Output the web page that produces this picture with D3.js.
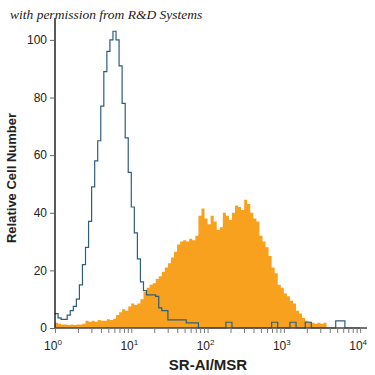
<!DOCTYPE html>
<html>
<head>
<meta charset="utf-8">
<script src="https://cdn.jsdelivr.net/npm/d3@7"></script>
<style>
  body { margin: 0; background: #fff; }
  svg { display: block; }
</style>
</head>
<body>
<script>
// histogram channels: 25 bins per decade, starting at 10^0
var binsPerDecade = 25;

// isotype control (blue outline)
var control = [
  5, 3.5, 3, 3, 4.5, 6, 7.5, 10, 15, 22,
  28, 37, 49, 58, 65, 77, 89, 96, 100, 103,
  100, 91, 78, 66, 54, 42, 33, 24, 16, 13,
  11.5, 11.5, 11.5, 11, 7, 6, 6, 2.8, 2.8, 2.8,
  2.8, 2.8, 2.8, 1.8, 1.8, 1.8, 1.8, 0, 0, 0,
  0, 0, 0, 0, 0, 0, 2, 2, 0, 0,
  0, 0, 0, 0, 0, 0, 0, 0, 0, 0,
  0, 2, 2, 0, 0, 0, 0, 2, 2, 0,
  0, 0, 2, 2, 0, 0, 0, 0, 0, 0,
  0, 0, 2.5, 2.5, 2.5, 0, 0, 0, 0, 0
];

// SR-AI/MSR stained (orange filled)
var stained = [
  1.8, 1.5, 1.2, 1.2, 1, 1.2, 1, 1.2, 1.2, 1.5,
  2.5, 2.2, 2.5, 2.2, 2.8, 2.5, 2.5, 3, 2.8, 3.2,
  4.5, 5.5, 6.5, 6, 7.5, 8.5, 8, 8.5, 10, 12.5,
  14, 15, 15.5, 17, 18, 19.5, 21, 22.5, 24.5, 26.5,
  29, 30, 30.5, 30, 31, 30.5, 32, 39, 41.5, 38,
  36, 39, 37, 34, 35, 40, 39, 37.5, 40, 42.5,
  42, 41, 44.5, 43, 40, 38, 37, 32, 30, 28,
  25, 21, 19, 15, 14, 12, 11, 9.5, 8.5, 6,
  5, 3.5, 2.5, 2.2, 1.8, 1.5, 1.8, 1.5, 1.8, 0,
  0, 0, 0, 0, 0, 0, 0, 0, 0, 0
];

var yTicks = [0, 20, 40, 60, 80, 100];
var decades = [0, 1, 2, 3, 4];

var width = 375;
var height = 375;
var narrow = "'Liberation Sans Narrow', 'Arial Narrow', sans-serif";

var svg = d3.select("body")
            .append("svg")
            .attr("width", width)
            .attr("height", height);

var x = d3.scaleLog()
          .domain([1, Math.pow(10, 4.09)])
          .range([55, 367]);

var y = d3.scaleLinear()
          .domain([0, 107.6])
          .range([328, 18]);

function edge(i) {
    return Math.pow(10, i / binsPerDecade);
}

function toSteps(values) {
    var pts = values.map(function(v, i) { return [edge(i), v]; });
    pts.push([edge(values.length), values[values.length - 1]]);
    return pts;
}

var area = d3.area()
             .x(function(d) { return x(d[0]); })
             .y0(y(0))
             .y1(function(d) { return y(d[1]); })
             .curve(d3.curveStepAfter);

var line = d3.line()
             .x(function(d) { return x(d[0]); })
             .y(function(d) { return y(d[1]); })
             .curve(d3.curveStepAfter);

svg.append("path")
   .attr("d", area(toSteps(stained)))
   .style("fill", "#f8a11f");

svg.append("path")
   .attr("d", line(toSteps(control)))
   .style("fill", "none")
   .style("stroke", "#2f5d7c")
   .style("stroke-width", 1.2);

// y axis
var yAxis = d3.axisLeft(y)
              .tickValues(yTicks)
              .tickSize(5)
              .tickPadding(3);

var gy = svg.append("g")
            .attr("transform", "translate(55,0)")
            .call(yAxis);
gy.select(".domain").attr("d", "M0," + y(107.6) + "V" + y(0)).style("stroke-width", 1.3);
gy.selectAll("text")
  .style("font-family", narrow)
  .style("font-size", "12px")
  .style("fill", "#222");
gy.selectAll("line").style("stroke", "#666");

// x axis with minor ticks
var minor = [];
decades.forEach(function(k) {
    for (var m = 1; m < 10; m++) {
        var v = m * Math.pow(10, k);
        if (v <= Math.pow(10, 4.09)) minor.push(v);
    }
});

var xAxis = d3.axisBottom(x)
              .tickValues(minor)
              .tickSize(5)
              .tickFormat("");

var gx = svg.append("g")
            .attr("transform", "translate(0,328)")
            .call(xAxis);
gx.select(".domain").attr("d", "M55,0H367").style("stroke", "#444").style("stroke-width", 1.5);
gx.selectAll("line").style("stroke", "#777");

var labels = svg.append("g")
    .style("font-family", narrow)
    .style("fill", "#222");

decades.forEach(function(k) {
    var t = labels.append("text")
                  .attr("x", x(Math.pow(10, k)) - 2)
                  .attr("y", 350)
                  .attr("text-anchor", "middle")
                  .style("font-size", "12px");
    t.append("tspan").text("10");
    t.append("tspan")
     .attr("dy", -5)
     .style("font-size", "8px")
     .text(k);
});

// axis titles
svg.append("text")
   .attr("x", 208)
   .attr("y", 370)
   .attr("text-anchor", "middle")
   .style("font-family", narrow)
   .style("font-weight", "bold")
   .style("font-size", "15px")
   .style("fill", "#222")
   .text("SR-AI/MSR");

svg.append("text")
   .attr("transform", "translate(16,178) rotate(-90)")
   .attr("text-anchor", "middle")
   .style("font-family", narrow)
   .style("font-weight", "bold")
   .style("font-size", "13px")
   .style("fill", "#222")
   .text("Relative Cell Number");

svg.append("text")
   .attr("x", 10)
   .attr("y", 19)
   .style("font-family", "'Liberation Serif', serif")
   .style("font-style", "italic")
   .style("font-size", "13.5px")
   .style("fill", "#222")
   .text("with permission from R&D Systems");
</script>
</body>
</html>
